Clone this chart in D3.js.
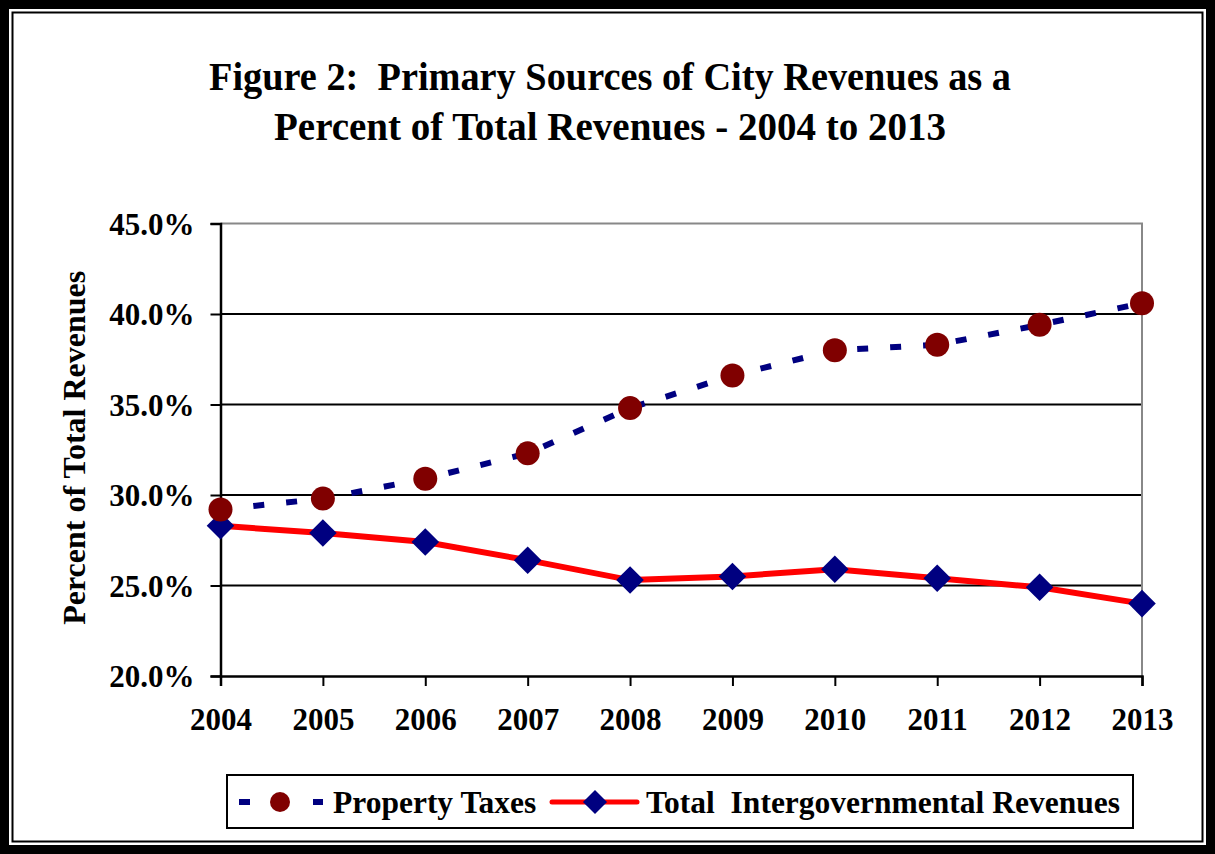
<!DOCTYPE html>
<html>
<head>
<meta charset="utf-8">
<script src="https://cdn.jsdelivr.net/npm/d3@7"></script>
<style>
  body { margin: 0; background: #fff; }
  svg text { font-family: "Liberation Serif", "Times New Roman", serif; font-weight: bold; fill: #000; white-space: pre; }
</style>
</head>
<body>
<div id="chart"></div>
<script>
// data
const years = ["2004","2005","2006","2007","2008","2009","2010","2011","2012","2013"];
const propertyTaxes = [29.2, 29.8, 30.9, 32.3, 34.8, 36.6, 38.0, 38.3, 39.4, 40.6];
const intergovRevenues = [28.3, 27.9, 27.4, 26.4, 25.3, 25.5, 25.9, 25.4, 24.9, 24.0];
const yTicks = [20, 25, 30, 35, 40, 45];

const width = 1215;
const height = 854;
const margin = {top: 223.5, left: 220.5, right: 73, bottom: 178};

const svg = d3.select("#chart")
    .append("svg")
    .attr("width", width)
    .attr("height", height);

/* frame */
svg.append("rect")
    .attr("x", 4.5).attr("y", 4.5)
    .attr("width", width - 9).attr("height", height - 9)
    .attr("fill", "none").attr("stroke", "#000").attr("stroke-width", 9);
svg.append("rect")
    .attr("x", 12.5).attr("y", 12.5)
    .attr("width", width - 25).attr("height", height - 25)
    .attr("fill", "none").attr("stroke", "#000").attr("stroke-width", 2);

/* scales */
const xScale = d3.scalePoint()
    .domain(years)
    .range([margin.left, width - margin.right]);

const yScale = d3.scaleLinear()
    .domain([20, 45])
    .range([height - margin.bottom, margin.top]);

/* title */
const title = svg.append("text")
    .attr("text-anchor", "middle")
    .attr("font-size", 39);
title.append("tspan").attr("x", 610).attr("y", 90)
    .attr("textLength", 802).attr("lengthAdjust", "spacingAndGlyphs")
    .text("Figure 2:  Primary Sources of City Revenues as a");
title.append("tspan").attr("x", 610).attr("y", 140)
    .attr("textLength", 672).attr("lengthAdjust", "spacingAndGlyphs")
    .text("Percent of Total Revenues - 2004 to 2013");

/* gridlines */
svg.append("g")
    .selectAll("line")
    .data(yTicks.filter(d => d > 20 && d < 45))
    .enter()
    .append("line")
        .attr("x1", margin.left)
        .attr("x2", width - margin.right)
        .attr("y1", d => yScale(d))
        .attr("y2", d => yScale(d))
        .attr("stroke", "#000")
        .attr("stroke-width", 2);

// plot border (grey) top and right
svg.append("path")
    .attr("d", `M${margin.left},${yScale(45)}H${width - margin.right}V${yScale(20)}`)
    .attr("fill", "none")
    .attr("stroke", "#888")
    .attr("stroke-width", 2);

/* axes */
const yAxis = svg.append("g")
    .attr("transform", `translate(${margin.left},0)`)
    .call(d3.axisLeft(yScale).tickValues(yTicks).tickSize(10).tickPadding(16)
        .tickFormat(d => d3.format(".1f")(d) + "%"));
yAxis.select(".domain").attr("stroke", "#000").attr("stroke-width", 2.5);
yAxis.selectAll(".tick line").attr("stroke", "#000").attr("stroke-width", 2);
yAxis.selectAll(".tick text")
    .attr("font-size", 31)
    .attr("font-family", "Liberation Serif")
    .attr("dy", "0.35em");

const xAxis = svg.append("g")
    .attr("transform", `translate(0,${yScale(20)})`)
    .call(d3.axisBottom(xScale).tickSize(10).tickPadding(22));
xAxis.select(".domain").attr("stroke", "#000").attr("stroke-width", 2.5);
xAxis.selectAll(".tick line").attr("stroke", "#000").attr("stroke-width", 2);
xAxis.selectAll(".tick text")
    .attr("font-size", 31)
    .attr("font-family", "Liberation Serif");

/* axis label */
svg.append("text")
    .attr("transform", "rotate(-90)")
    .attr("x", -(yScale(20) + yScale(45)) / 2 + 2)
    .attr("y", 85)
    .attr("text-anchor", "middle")
    .attr("font-size", 32)
    .text("Percent of Total Revenues");

/* lines */
const line = d3.line()
    .x((d, i) => xScale(years[i]))
    .y(d => yScale(d));

svg.append("path")
    .datum(intergovRevenues)
    .attr("d", line)
    .attr("fill", "none")
    .attr("stroke", "#ff0000")
    .attr("stroke-width", 6);

svg.append("path")
    .datum(propertyTaxes)
    .attr("d", line)
    .attr("fill", "none")
    .attr("stroke", "#000080")
    .attr("stroke-width", 6)
    .attr("stroke-dasharray", "11,22");

/* markers */
const diamond = d3.symbol().type(d3.symbolSquare).size(380);

svg.append("g")
    .selectAll("path")
    .data(intergovRevenues)
    .enter()
    .append("path")
        .attr("d", diamond)
        .attr("transform", (d, i) => `translate(${xScale(years[i])},${yScale(d)}) rotate(45)`)
        .attr("fill", "#000080");

svg.append("g")
    .selectAll("circle")
    .data(propertyTaxes)
    .enter()
    .append("circle")
        .attr("cx", (d, i) => xScale(years[i]))
        .attr("cy", d => yScale(d))
        .attr("r", 12)
        .attr("fill", "#800000");

/* legend */
const legend = svg.append("g");
legend.append("rect")
    .attr("x", 227).attr("y", 775)
    .attr("width", 906).attr("height", 53)
    .attr("fill", "#fff").attr("stroke", "#000").attr("stroke-width", 2);

const ly = 802;
legend.append("line")
    .attr("x1", 239).attr("x2", 323)
    .attr("y1", ly).attr("y2", ly)
    .attr("stroke", "#000080").attr("stroke-width", 6)
    .attr("stroke-dasharray", "11,63");
legend.append("circle")
    .attr("cx", 280).attr("cy", ly).attr("r", 10)
    .attr("fill", "#800000");
legend.append("text")
    .attr("x", 333).attr("y", 813)
    .attr("font-size", 31.5)
    .text("Property Taxes");

legend.append("line")
    .attr("x1", 552).attr("x2", 637)
    .attr("y1", ly).attr("y2", ly)
    .attr("stroke", "#ff0000").attr("stroke-width", 5)
    .attr("stroke-linecap", "round");
legend.append("path")
    .attr("d", d3.symbol().type(d3.symbolSquare).size(290))
    .attr("transform", `translate(595,${ly}) rotate(45)`)
    .attr("fill", "#000080");
legend.append("text")
    .attr("x", 646).attr("y", 813)
    .attr("font-size", 31.5)
    .text("Total  Intergovernmental Revenues");
</script>
</body>
</html>
